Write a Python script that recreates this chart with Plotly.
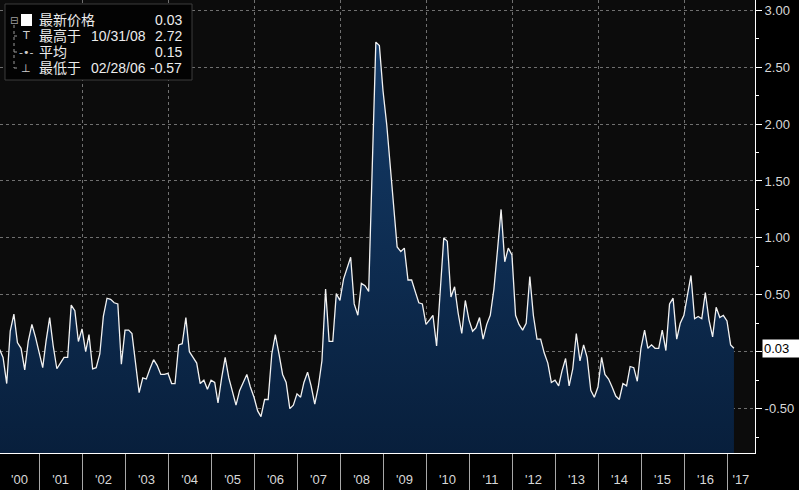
import plotly.graph_objects as go
import pandas as pd

# ---------------- data (monthly, end of month, Jan 2000 .. Feb 2017) ----------------
values = [
    0.02, -0.05, -0.28, 0.18, 0.33, 0.08, 0.03, -0.16, 0.09, 0.24, 0.13, -0.02,   # 2000
    -0.14, 0.09, 0.30, 0.05, -0.15, -0.10, -0.05, -0.05, 0.41, 0.36, 0.09, 0.20,  # 2001
    0.00, 0.15, -0.15, -0.14, -0.02, 0.31, 0.47, 0.46, 0.43, 0.42, -0.11, 0.19,   # 2002
    0.19, 0.16, -0.10, -0.36, -0.23, -0.24, -0.15, -0.07, -0.12, -0.20, -0.20, -0.19,  # 2003
    -0.28, -0.28, 0.06, 0.07, 0.30, 0.00, -0.05, -0.10, -0.28, -0.25, -0.33, -0.25,    # 2004
    -0.27, -0.45, -0.23, -0.05, -0.23, -0.34, -0.47, -0.34, -0.27, -0.20, -0.31, -0.40, # 2005
    -0.52, -0.57, -0.42, -0.42, -0.02, 0.15, -0.02, -0.20, -0.27, -0.50, -0.47, -0.37, # 2006
    -0.40, -0.27, -0.18, -0.30, -0.46, -0.31, -0.08, 0.55, 0.09, 0.09, 0.51, 0.45,     # 2007
    0.64, 0.73, 0.83, 0.42, 0.32, 0.60, 0.58, 0.53, 1.60, 2.72, 2.69, 2.29,           # 2008
    2.00, 1.66, 1.25, 0.92, 0.88, 0.91, 0.63, 0.63, 0.53, 0.43, 0.42, 0.24,           # 2009
    0.28, 0.32, 0.05, 0.50, 1.00, 0.97, 0.48, 0.57, 0.34, 0.16, 0.45, 0.28,           # 2010
    0.18, 0.21, 0.30, 0.11, 0.24, 0.32, 0.55, 0.90, 1.25, 0.79, 0.91, 0.85,           # 2011
    0.32, 0.24, 0.19, 0.25, 0.66, 0.32, 0.11, 0.11, -0.01, -0.10, -0.27, -0.25,       # 2012
    -0.30, -0.17, -0.06, -0.30, -0.15, 0.16, -0.08, 0.06, -0.05, -0.34, -0.40, -0.31, # 2013
    -0.05, -0.20, -0.24, -0.31, -0.39, -0.42, -0.28, -0.30, -0.13, -0.14, -0.26, 0.03, # 2014
    0.19, 0.03, 0.06, 0.03, 0.03, 0.19, 0.01, 0.42, 0.47, 0.11, 0.25, 0.32,           # 2015
    0.50, 0.67, 0.29, 0.31, 0.29, 0.52, 0.28, 0.13, 0.39, 0.30, 0.32, 0.27,           # 2016
    0.06, 0.03,                                                                         # 2017
]
dates = pd.date_range("2000-01-31", periods=len(values), freq=pd.offsets.MonthEnd())

years = list(range(2000, 2018))
year_labels = ["'00", "'01", "'02", "'03", "'04", "'05", "'06", "'07", "'08",
               "'09", "'10", "'11", "'12", "'13", "'14", "'15", "'16", "'17"]
# label positions: middle of each visible year span
year_label_pos = (["2000-07-17"] + [f"{y}-07-02" for y in years[1:-1]]
                  + ["2017-04-28"])

y_ticks = [-0.5, 0.0, 0.5, 1.0, 1.5, 2.0, 2.5, 3.0]
y_ticktext = ["-0.50", "", "0.50", "1.00", "1.50", "2.00", "2.50", "3.00"]

legend_labels = ["最新价格", "最高于", "平均", "最低于"]
legend_dates = ["", "10/31/08", "", "02/28/06"]
legend_values = ["0.03", "2.72", "0.15", "-0.57"]
last_value = "0.03"

Y_MIN, Y_MAX = -0.89, 3.09
X_RANGE = ["2000-02-03", "2017-08-26"]

# ---------------- figure ----------------
fig = go.Figure()

fig.add_trace(go.Scatter(x=dates, y=[Y_MIN] * len(values), mode="lines",
                         line=dict(width=0, color="rgba(0,0,0,0)"),
                         hoverinfo="skip", showlegend=False))
fig.add_trace(go.Scatter(
    x=dates, y=values, mode="lines",
    line=dict(color="#f2f2f2", width=1.3),
    fill="tonexty",
    fillcolor="#0d2b50",
    fillgradient=dict(type="vertical",
                      colorscale=[[0, "#081f3c"], [1, "#143b68"]]),
    showlegend=False,
))
# helper trace for the overlay axis carrying the 2-year grid
fig.add_trace(go.Scatter(x=[dates[0]], y=[None], xaxis="x2", mode="lines",
                         showlegend=False, hoverinfo="skip"))

W, H = 799, 490
L, R, T, B = 0, 44, 0, 37
PW, PH = W - L - R, H - T - B


def px(x):
    return x / PW


def py(y):
    return 1 - y / PH


font_axis = "Liberation Sans, Arial, sans-serif"
font_leg = "Liberation Sans, Noto Sans CJK SC, sans-serif"

fig.update_layout(
    width=W, height=H,
    margin=dict(l=L, r=R, t=T, b=B, pad=0),
    paper_bgcolor="#000000",
    plot_bgcolor="#0c0c0c",
    showlegend=False,
    xaxis=dict(
        type="date", range=X_RANGE,
        tickmode="array",
        tickvals=year_label_pos,
        ticktext=year_labels,
        ticks="",
        ticklabelstandoff=14,
        tickfont=dict(family=font_axis, size=13, color="#d8d8d8"),
        showgrid=False, zeroline=False,
        showline=True, linecolor="#ffffff", linewidth=1,
        minor=dict(tickmode="array",
                   tickvals=[f"{y}-01-01" for y in years[1:]],
                   ticks="outside", ticklen=37, tickwidth=1,
                   tickcolor="#a8a8a8", showgrid=False),
    ),
    xaxis2=dict(
        type="date", range=X_RANGE, overlaying="x", anchor="y",
        tickmode="array",
        tickvals=[f"{y}-01-01" for y in years if y % 2 == 0 and 2000 < y < 2018],
        showticklabels=False, ticks="",
        showgrid=True, gridcolor="#707070", gridwidth=1, griddash="dot",
        zeroline=False, showline=False,
    ),
    yaxis=dict(
        side="right", range=[Y_MIN, Y_MAX],
        tickmode="array", tickvals=y_ticks, ticktext=y_ticktext,
        ticks="outside", ticklen=6, tickwidth=1, tickcolor="#ffffff",
        tickfont=dict(family=font_axis, size=13, color="#d8d8d8"),
        showgrid=True, gridcolor="#707070", gridwidth=1, griddash="dot",
        zeroline=False,
        showline=True, linecolor="#ffffff", linewidth=1,
        minor=dict(tickmode="array",
                   tickvals=[v + 0.25 for v in [-1.0] + y_ticks],
                   ticks="outside", ticklen=3, tickcolor="#ffffff",
                   showgrid=False),
    ),
)

# latest value tag on the right axis
fig.add_annotation(x=1, xref="paper", xanchor="left", xshift=7,
                   y=values[-1], yref="y", yanchor="middle",
                   text=last_value + "&nbsp;&nbsp;&nbsp;",
                   showarrow=False, bgcolor="#ffffff", borderpad=1,
                   font=dict(family=font_axis, size=13, color="#000000"))

# ---------------- legend box (Bloomberg style) ----------------
shapes = [
    dict(type="rect", xref="paper", yref="paper",
         x0=px(5), x1=px(192), y0=py(80), y1=py(4),
         fillcolor="#030303", line=dict(color="#3c3c3c", width=1), layer="above"),
    dict(type="rect", xref="paper", yref="paper",
         x0=px(21), x1=px(32), y0=py(26), y1=py(14),
         fillcolor="#ffffff", line=dict(width=0), layer="above"),
    dict(type="line", xref="paper", yref="paper",
         x0=px(14), x1=px(14), y0=py(25), y1=py(68),
         line=dict(color="#9a9a9a", width=1, dash="dot"), layer="above"),
]
for ry in [36, 52, 68]:
    shapes.append(dict(type="line", xref="paper", yref="paper",
                       x0=px(14), x1=px(20), y0=py(ry), y1=py(ry),
                       line=dict(color="#9a9a9a", width=1, dash="dot"), layer="above"))
fig.update_layout(shapes=shapes)

row_y = [20, 36, 52, 68]
symbols = ["", "T", "-•-", "⊥"]
fig.add_annotation(x=px(14), y=py(20), xref="paper", yref="paper",
                   text="⊟", showarrow=False, xanchor="center", yanchor="middle",
                   font=dict(family="DejaVu Sans", size=10, color="#a0a0a0"))
for i in range(4):
    if symbols[i]:
        fig.add_annotation(x=px(26), y=py(row_y[i]), xref="paper", yref="paper",
                           text=symbols[i], showarrow=False, xanchor="center",
                           yanchor="middle",
                           font=dict(family="DejaVu Sans", size=11, color="#cfcfcf"))
    fig.add_annotation(x=px(37), y=py(row_y[i]), xref="paper", yref="paper",
                       text=legend_labels[i], showarrow=False, xanchor="left",
                       yanchor="middle",
                       font=dict(family=font_leg, size=14, color="#ececec"))
    if legend_dates[i]:
        fig.add_annotation(x=px(89), y=py(row_y[i]), xref="paper", yref="paper",
                           text=legend_dates[i], showarrow=False, xanchor="left",
                           yanchor="middle",
                           font=dict(family=font_leg, size=14, color="#ececec"))
    fig.add_annotation(x=px(184), y=py(row_y[i]), xref="paper", yref="paper",
                       text=legend_values[i], showarrow=False, xanchor="right",
                       yanchor="middle",
                       font=dict(family=font_leg, size=14, color="#ececec"))

fig.write_html("out.html")
